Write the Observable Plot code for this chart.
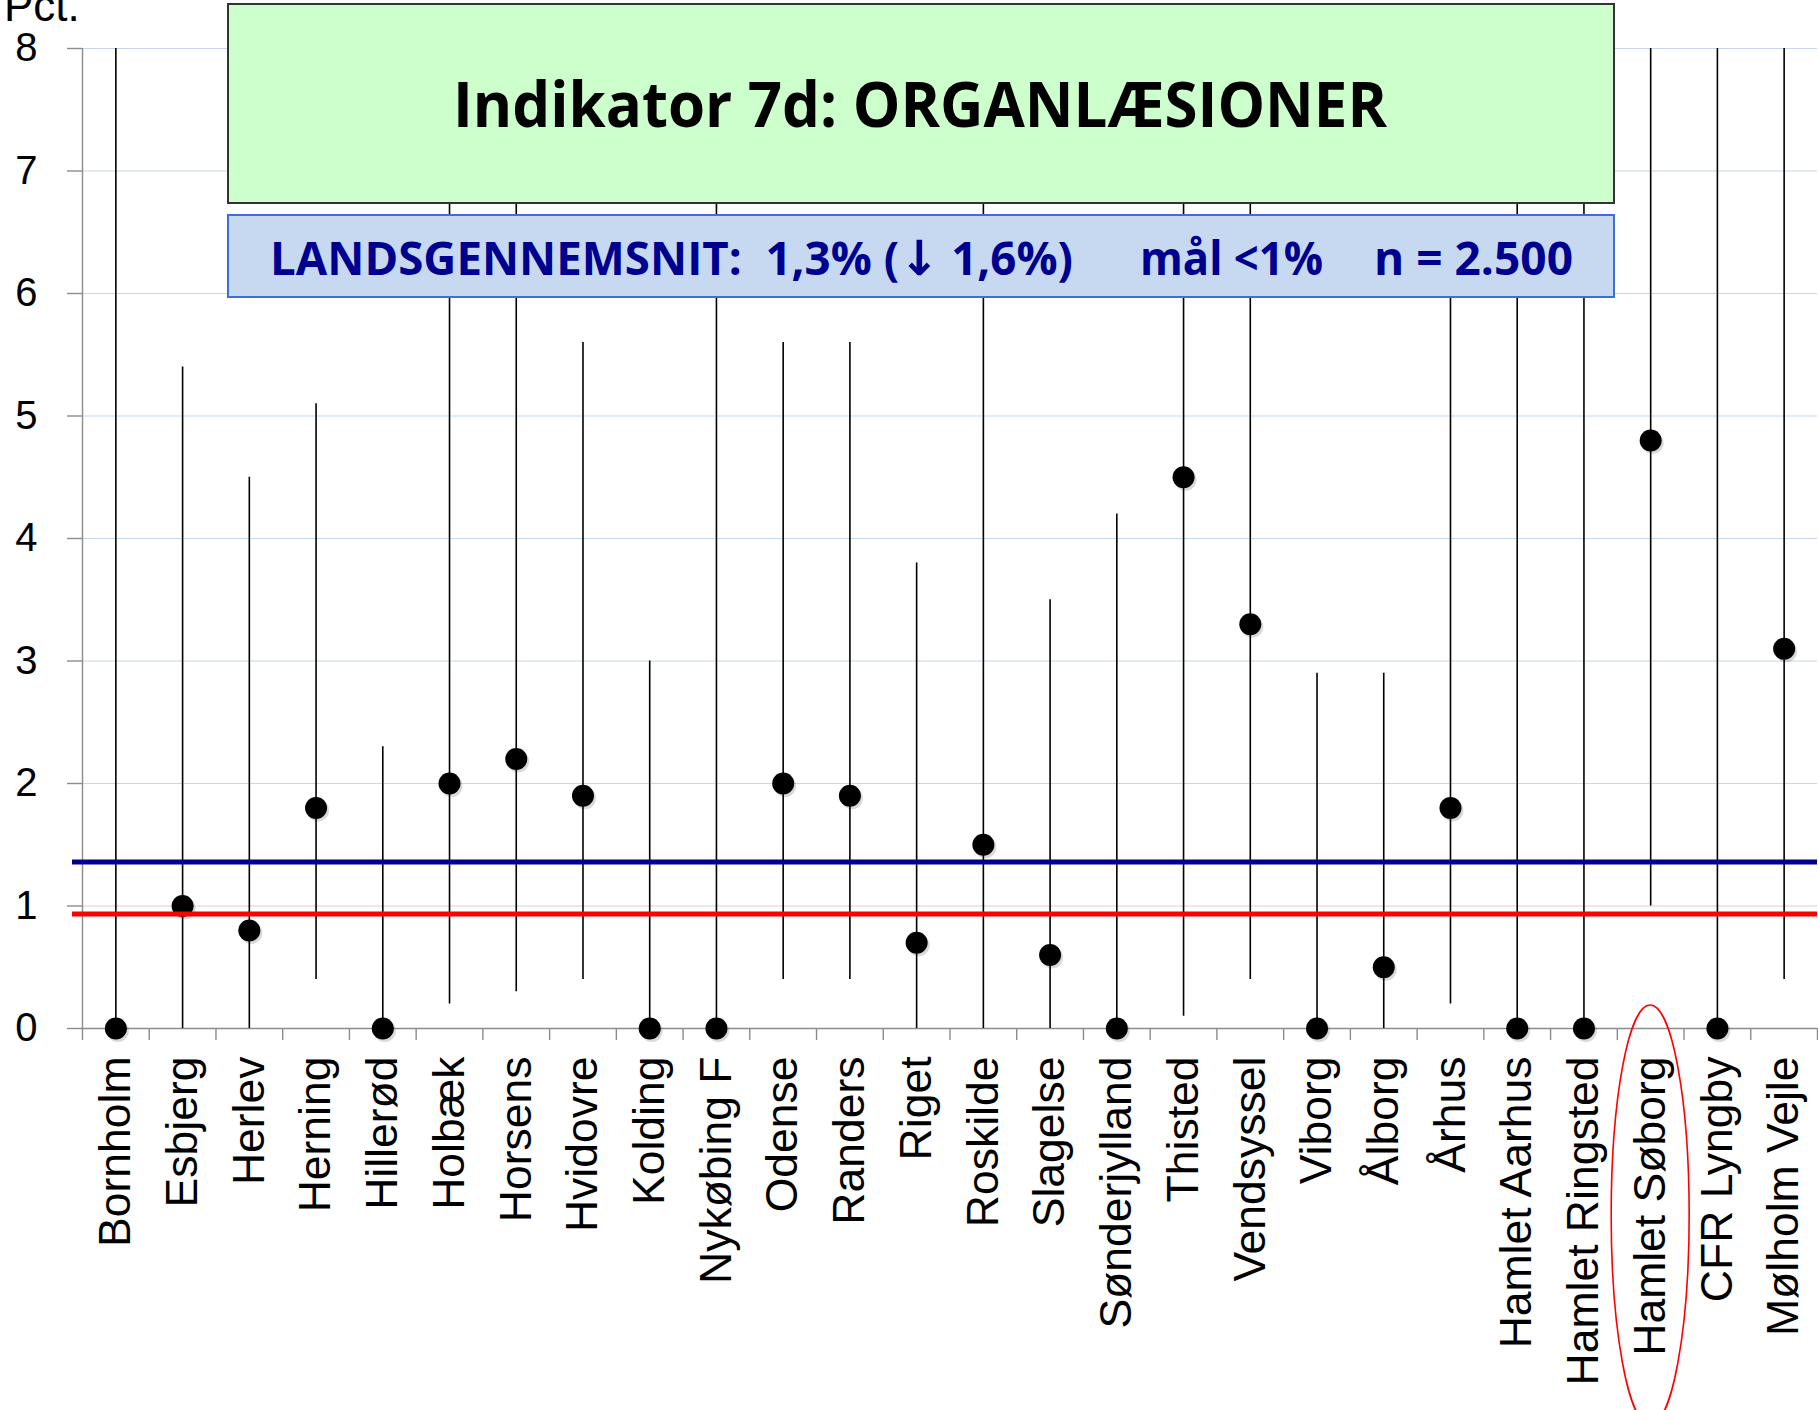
<!DOCTYPE html>
<html><head><meta charset="utf-8">
<script src="https://cdn.jsdelivr.net/npm/d3@7"></script>
<script src="https://cdn.jsdelivr.net/npm/@observablehq/plot@0.6"></script>
<style>
body{margin:0;background:#fff;}
#wrap{position:relative;width:1818px;height:1410px;overflow:hidden;font-family:"Liberation Sans",Arial,sans-serif;}
.box{position:absolute;box-sizing:border-box;}
.fit{position:absolute;white-space:pre;transform-origin:0 0;font-family:"Open Sans",sans-serif;font-weight:700;line-height:1;}
.arrow{font-family:"DejaVu Sans",sans-serif;font-weight:700;font-size:1.05em;}
#ylab{position:absolute;left:4px;top:-9px;font-size:44px;line-height:30px;font-family:"Liberation Sans",Arial,sans-serif;}
</style></head><body>
<div id="wrap"></div>
<script>
// ---- data ----
const categories = ["Bornholm","Esbjerg","Herlev","Herning","Hillerød","Holbæk","Horsens","Hvidovre","Kolding","Nykøbing F","Odense","Randers","Riget","Roskilde","Slagelse","Sønderjylland","Thisted","Vendsyssel","Viborg","Ålborg","Århus","Hamlet Aarhus","Hamlet Ringsted","Hamlet Søborg","CFR Lyngby","Mølholm Vejle"];
const values = [0,1.0,0.8,1.8,0,2.0,2.2,1.9,0,0,2.0,1.9,0.7,1.5,0.6,0,4.5,3.3,0,0.5,1.8,0,0,4.8,0,3.1];
const lower  = [0,0,0,0.4,0,0.2,0.3,0.4,0,0,0.4,0.4,0,0,0,0,0.1,0.4,0,0,0.2,0,0,1.0,0,0.4];
const upper  = [8,5.4,4.5,5.1,2.3,8,8,5.6,3.0,8,5.6,5.6,3.8,8,3.5,4.2,8,8,2.9,2.9,6.1,8,8,8,8,8];
const yTicks = [0,1,2,3,4,5,6,7,8];
const nationalAverage = 1.36;
const goal = 0.935;
const highlighted = "Hamlet Søborg";
const yLabel = "Pct.";
const titleText = "Indikator 7d: ORGANLÆSIONER";
const subtitleParts = ["LANDSGENNEMSNIT:  1,3% (", "\u2193", " 1,6%)", "mål <1%", "n = 2.500"];

const data = categories.map((name, i) => ({name, value: values[i], lo: lower[i], hi: upper[i]}));

const W = 1818, H = 1410, mL = 82, mR = 1, mT = 48, mB = 382;
const bw = (W - mL - mR) / categories.length;
const axisGray = "#8c8c8c";

const plot = Plot.plot({
  width: W, height: H,
  marginLeft: mL, marginRight: mR, marginTop: mT, marginBottom: mB,
  style: {fontFamily: '"Liberation Sans", Arial, sans-serif', background: "transparent", overflow: "visible", color: "black"},
  x: {type: "band", domain: categories, padding: 0, round: false},
  y: {domain: [0, 8]},
  marks: [
    Plot.gridY(yTicks.slice(1), {stroke: "#c6d6ec", strokeOpacity: 1, strokeWidth: 1.2}),
    Plot.ruleX([categories[0]], {x: d => d, dx: -bw / 2, y1: 0, y2: 8, stroke: axisGray, strokeWidth: 1.4}),
    Plot.ruleY([0], {stroke: axisGray, strokeWidth: 1.4}),
    Plot.axisY({ticks: yTicks, tickSize: 15, tickPadding: 30, fontSize: 40, stroke: axisGray, strokeWidth: 1.4, fill: "black", tickFormat: d => String(d), label: null}),
    Plot.axisX({ticks: categories, tickSize: 12, tickFormat: () => "", dx: -bw / 2, stroke: axisGray, strokeWidth: 1.4, label: null}),
    Plot.axisX({ticks: [categories[categories.length - 1]], tickSize: 12, tickFormat: () => "", dx: bw / 2, stroke: axisGray, strokeWidth: 1.4, label: null}),
    Plot.axisX({ticks: categories, tickSize: 0, tickPadding: 28, tickRotate: -90, fontSize: 44.5, fill: "black", label: null}),
    Plot.ruleX(data, {x: "name", y1: "lo", y2: "hi", stroke: "black", strokeWidth: 1.6}),
    Plot.dot(data, {x: "name", y: "value", r: 11, fill: "#000", fillOpacity: 0.15, dx: 2, dy: 2.5}),
    Plot.dot(data, {x: "name", y: "value", r: 11, fill: "black"}),
    Plot.ruleY([nationalAverage], {stroke: "#00008b", strokeWidth: 5, insetLeft: -10}),
    Plot.ruleY([goal], {stroke: "#ff0000", strokeWidth: 5, insetLeft: -10})
  ]
});

const wrap = document.getElementById("wrap");
plot.style.position = "absolute";
plot.style.left = "0px";
plot.style.top = "0px";
wrap.appendChild(plot);

// highlight ellipse around the label
const xs = plot.scale("x"), ys = plot.scale("y");
const cx = xs.apply(highlighted) + xs.bandwidth / 2;
d3.select(plot).append("ellipse")
  .attr("cx", cx).attr("cy", ys.apply(0) + 187)
  .attr("rx", 39).attr("ry", 210)
  .attr("fill", "none").attr("stroke", "#ff0000").attr("stroke-width", 1.6);

// y label
const yl = document.createElement("div");
yl.id = "ylab"; yl.textContent = yLabel;
wrap.appendChild(yl);

// boxes
function box(l, t, w, h, bg, border) {
  const d = document.createElement("div");
  d.className = "box";
  Object.assign(d.style, {left: l + "px", top: t + "px", width: w + "px", height: h + "px", background: bg, border: border});
  wrap.appendChild(d);
}
box(227, 3, 1388, 201, "#ccffcc", "2px solid #333");
box(227, 214, 1388, 84, "#c6d9f1", "2px solid #3f6fd6");

const fits = [];
function fitText(parts, x0, x1, baseline, fs, color) {
  const s = document.createElement("span");
  s.className = "fit";
  for (const p of parts) {
    const t = document.createElement("span");
    t.textContent = p;
    if (p === "\u2193") t.className = "arrow";
    s.appendChild(t);
  }
  Object.assign(s.style, {fontSize: fs + "px", color: color, left: x0 + "px", top: (baseline - 0.888 * fs) + "px"});
  wrap.appendChild(s);
  fits.push([s, x1 - x0]);
}
fitText([titleText], 453, 1387, 127, 63, "#000");
fitText(subtitleParts.slice(0, 3), 270, 1073, 275, 46, "#000090");
fitText([subtitleParts[3]], 1140, 1323, 275, 46, "#000090");
fitText([subtitleParts[4]], 1374, 1573, 275, 46, "#000090");
function applyFit() {
  for (const [s, w] of fits) {
    s.style.transform = "none";
    const actual = s.getBoundingClientRect().width;
    s.style.transform = `scaleX(${w / actual})`;
  }
}
applyFit();
if (document.fonts) document.fonts.ready.then(applyFit);
</script>
</body></html>
